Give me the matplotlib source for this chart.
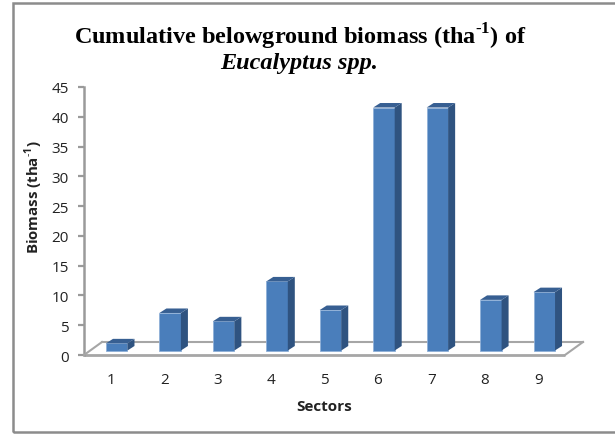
import matplotlib
matplotlib.use("Agg")
import matplotlib.pyplot as plt
from matplotlib.patches import Polygon, Rectangle
from matplotlib.transforms import Affine2D

plt.rcParams["mathtext.fontset"] = "custom"
plt.rcParams["mathtext.bf"] = "Liberation Serif:bold"
plt.rcParams["mathtext.sf"] = "Open Sans:bold"

sectors = ["1", "2", "3", "4", "5", "6", "7", "8", "9"]
biomass = [1.2, 6.3, 4.9, 11.6, 6.8, 40.8, 40.8, 8.5, 9.8]
y_ticks = [0, 5, 10, 15, 20, 25, 30, 35, 40, 45]

W, H = 615, 435
fig = plt.figure(figsize=(W / 100, H / 100), dpi=100)
fig.patch.set_facecolor("white")
fig.add_artist(Rectangle((12.5 / W, 1 - 433 / H), 700 / W, (433 - 4) / H,
                         transform=fig.transFigure, fill=False, ec="#8c8c8c", lw=1.8))

L, R, T, B = 84, 565, 88, 356
ax = fig.add_axes([L / W, 1 - B / H, (R - L) / W, (B - T) / H])
ax.set_xlim(0.5, 9.5)
ax.set_ylim(0, 45)
ax.patch.set_alpha(0)
for s in ("top", "right", "bottom"):
    ax.spines[s].set_visible(False)
ax.spines["left"].set_color("#9a9a9a")
ax.spines["left"].set_linewidth(1.8)

x = list(range(1, 10))


def off(dx, dy):
    return ax.transData + Affine2D().translate(dx, -dy)


# floor of the 3D box
fl = "#a6a6a6"
ax.plot([0.5, 9.5], [0, 0], color=fl, lw=2, clip_on=False, zorder=1, solid_capstyle="butt")
ax.plot([0.5, 9.5], [0, 0], color=fl, lw=1.5, clip_on=False, zorder=1, transform=off(18, -13))
for xx in (0.5, 9.5):
    t = ax.transData.transform((xx, 0))
    fig.add_artist(plt.Line2D([t[0] / W, (t[0] + 18) / W], [t[1] / H, (t[1] + 13) / H],
                              color=fl, lw=1.5, zorder=1))

bw = 21.5 / 53.44
fx, fy = 6, -4.5
dep_x, dep_y = 7, 4.5


def p(a, b, ox=0, oy=0):
    d = ax.transData.transform((a, b))
    return (d[0] + fx + ox, d[1] - fy + oy)


for xi, v in zip(x, biomass):
    l, r = xi - bw / 2, xi + bw / 2
    s = [p(r, 0), p(r, v), p(r, v, dep_x, dep_y), p(r, 0, dep_x, dep_y)]
    tp = [p(l, v), p(r, v), p(r, v, dep_x, dep_y), p(l, v, dep_x, dep_y)]
    fig.add_artist(Polygon(s, closed=True, transform=None, fc="#2f5380", ec="none", zorder=3))
    fig.add_artist(Polygon(tp, closed=True, transform=None, fc="#375f92", ec="none", zorder=3))

ax.bar(x, biomass, width=bw, bottom=0, color="#4a7ebb", edgecolor="#8fb0d8", linewidth=0.6,
       transform=off(fx, fy), zorder=4, clip_on=False)

ax.set_xticks(x, sectors)
ax.set_yticks(y_ticks)
ax.tick_params(axis="x", length=0, pad=12, labelsize=11, colors="#222222")
ax.tick_params(axis="y", length=4, width=1.6, color="#9a9a9a", pad=7, labelsize=11, labelcolor="#222222")
for lab in ax.get_xticklabels() + ax.get_yticklabels():
    lab.set_family("Open Sans")

fig.text(34 / W, 1 - 197 / H, "Biomass (tha$^{\\mathsf{\u20101}}$)", rotation=90, ha="center", va="center",
         family="Open Sans", fontsize=10.8, fontweight="bold", color="#222222")
fig.text(324 / W, 1 - 407 / H, "Sectors", ha="center", va="center",
         family="Open Sans", fontsize=11, fontweight="bold", color="#222222")
fig.text(300 / W, 1 - 37 / H, "Cumulative belowground biomass (tha$^{\\mathbf{\u20101}}$) of",
         ha="center", va="center", family="Liberation Serif", fontsize=17.5, fontweight="bold", color="black")
fig.text(299 / W, 1 - 64 / H, "Eucalyptus spp.", ha="center", va="center",
         family="Liberation Serif", fontsize=17.5, fontweight="bold", style="italic", color="black")

fig.savefig("out.png", dpi=100)
